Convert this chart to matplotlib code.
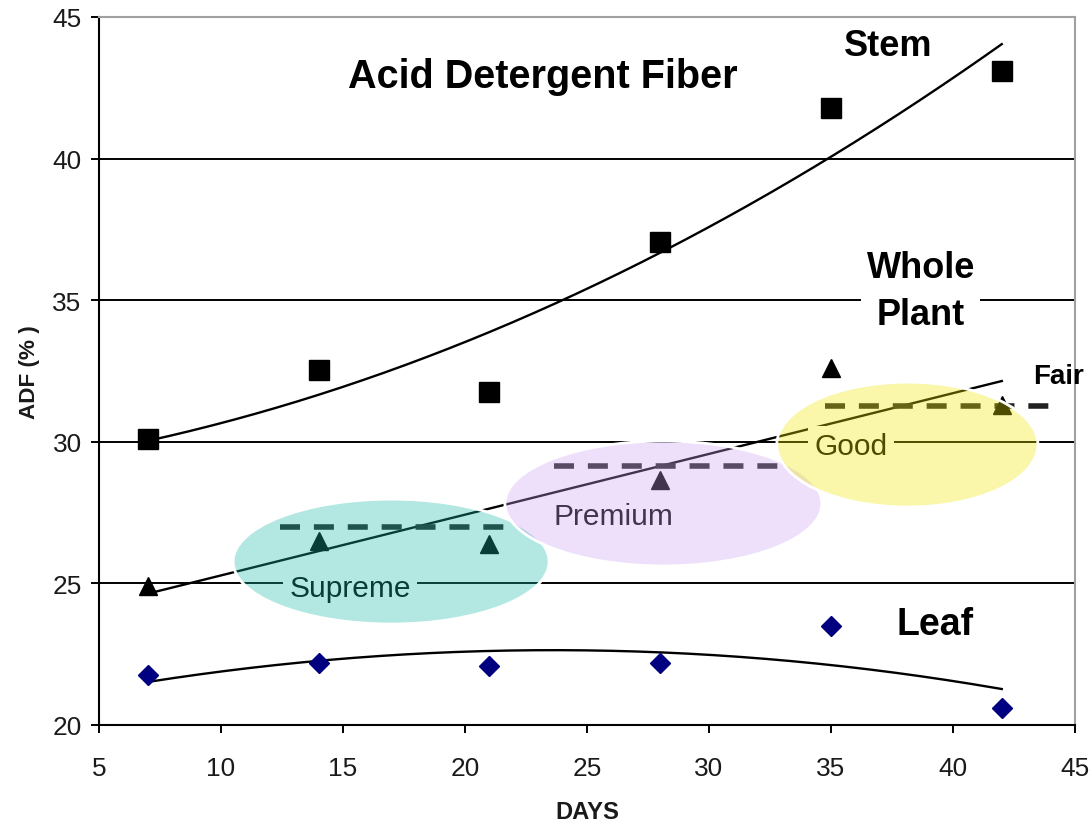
import numpy as np
import matplotlib
matplotlib.use("Agg")
import matplotlib.pyplot as plt
from matplotlib import font_manager
from matplotlib.patches import Ellipse

# data
days = [7, 14, 21, 28, 35, 42]
stem = [30.1, 32.55, 31.75, 37.05, 41.8, 43.1]
whole_plant = [24.9, 26.5, 26.4, 28.65, 32.6, 31.3]
leaf = [21.75, 22.2, 22.1, 22.2, 23.5, 20.6]

# quality grade thresholds (dashed lines): level, start day, end day
grade_names = ["Supreme", "Premium", "Good"]
grade_levels = [27.0, 29.15, 31.25]
grade_start = [12.4, 23.65, 34.75]
grade_end = [21.65, 32.85, 44.0]

# shaded grade ellipses: centre x, centre y, width, height (data units)
ell_cx = [16.97, 28.13, 38.13]
ell_cy = [25.77, 27.82, 29.90]
ell_w = [12.95, 12.99, 10.7]
ell_h = [4.41, 4.41, 4.41]
ell_colors = [(0.09, 0.73, 0.65), (0.80, 0.63, 0.94), (0.94, 0.91, 0.0)]

names = {f.name for f in font_manager.fontManager.ttflist}
narrow = "Liberation Sans Narrow" in names
tick_font = "Liberation Sans Narrow" if narrow else "Liberation Sans"
scale = 1.0 if narrow else 0.9

plt.rcParams["font.family"] = ["Liberation Sans", "DejaVu Sans"]

fig = plt.figure(figsize=(10.92, 8.28), dpi=100)
ax = fig.add_axes([0.0907, 0.1232, 0.8937, 0.8551])

ax.set_xlim(5, 45)
ax.set_ylim(20, 45)
ax.set_xticks(np.arange(5, 46, 5))
ax.set_yticks(np.arange(20, 46, 5))

# horizontal grid lines
for yv in [25, 30, 35, 40]:
    ax.axhline(yv, color="black", lw=1.4, zorder=0.5)

for side in ["top", "right"]:
    ax.spines[side].set_color("#a0a0a0")
    ax.spines[side].set_linewidth(1.5)
for side in ["left", "bottom"]:
    ax.spines[side].set_color("black")
    ax.spines[side].set_linewidth(1.5)

ax.tick_params(direction="out", length=5.5, width=1.4, pad=7)
ax.tick_params(axis="x", pad=17)
for lab in ax.get_xticklabels() + ax.get_yticklabels():
    lab.set_fontfamily(tick_font)
    lab.set_fontsize(21 * scale)
    lab.set_color("#1a1a1a")

ax.set_xlabel("DAYS", fontfamily=tick_font, fontsize=19 * scale,
              fontweight="bold", color="#1a1a1a", labelpad=14)
ax.set_ylabel("ADF (% )", fontfamily=tick_font, fontsize=18 * scale,
              fontweight="bold", color="#1a1a1a", labelpad=9)

# trend lines (Excel style polynomial / linear fits)
xs = np.linspace(days[0], days[-1], 200)
ax.plot(xs, np.polyval(np.polyfit(days, stem, 2), xs), color="black", lw=1.7, zorder=2)
ax.plot(xs, np.polyval(np.polyfit(days, whole_plant, 1), xs), color="black", lw=1.7, zorder=2)
ax.plot(xs, np.polyval(np.polyfit(days, leaf, 2), xs), color="black", lw=1.7, zorder=2)

# points
ax.plot(days, stem, "s", color="black", ms=14, zorder=3)
ax.plot(days, whole_plant, "^", color="black", ms=13, zorder=3)
ax.plot(days, leaf, "D", color="#000080", ms=10.5, zorder=3)

# grade threshold dashes
for lvl, x0, x1 in zip(grade_levels, grade_start, grade_end):
    ax.plot([x0, x1], [lvl, lvl], color="#222222", lw=4, dashes=(3.6, 2.5),
            zorder=2, clip_on=False)

# labels
ax.text(23.2, 42.9, "Acid Detergent Fiber", fontsize=28.5, fontweight="bold",
        ha="center", va="center", zorder=5)
ax.text(37.34, 43.98, "Stem", fontsize=26, fontweight="bold",
        ha="center", va="center", zorder=5)
ax.text(38.68, 35.33, "Whole\nPlant", fontsize=26, fontweight="bold",
        ha="center", va="center", linespacing=1.45, zorder=2.5,
        bbox=dict(boxstyle="square,pad=0.15", fc="white", ec="none"))
ax.text(44.34, 32.32, "Fair", fontsize=20, fontweight="bold",
        ha="center", va="center", zorder=5, clip_on=False)
ax.text(39.26, 23.55, "Leaf", fontsize=27, fontweight="bold",
        ha="center", va="center", zorder=5)

grade_text_x = [15.29, 26.07, 35.82]
grade_text_y = [24.84, 27.38, 29.85]
for name, tx, ty in zip(grade_names, grade_text_x, grade_text_y):
    box = None
    if name != "Premium":
        box = dict(boxstyle="square,pad=0.2", fc="white", ec="none")
    ax.text(tx, ty, name, fontsize=21.5, ha="center", va="center",
            zorder=2.5, bbox=box)

# semi-transparent ellipses on top
for i in range(3):
    ax.add_patch(Ellipse((ell_cx[i], ell_cy[i]), ell_w[i], ell_h[i],
                         facecolor=ell_colors[i], alpha=0.33, edgecolor="none",
                         zorder=4 + i * 0.1))
    ax.add_patch(Ellipse((ell_cx[i], ell_cy[i]), ell_w[i], ell_h[i],
                         fill=False, edgecolor="white", lw=2,
                         zorder=4.05 + i * 0.1))

fig.savefig("out.png", dpi=100)
